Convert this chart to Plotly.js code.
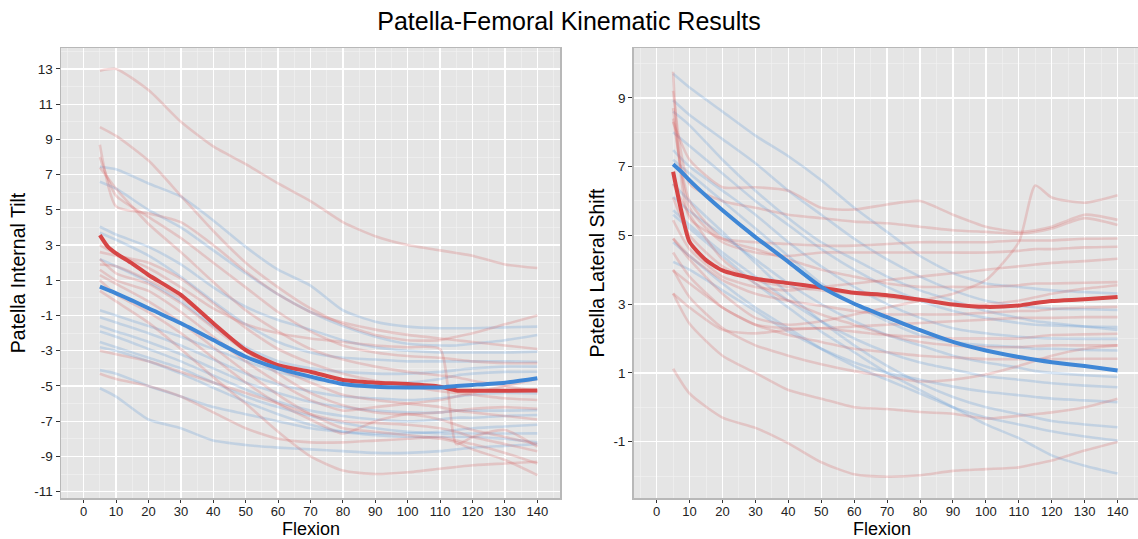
<!DOCTYPE html>
<html>
<head>
<meta charset="utf-8">
<script src="https://cdn.plot.ly/plotly-3.0.1.min.js"></script>
<style>html,body{margin:0;padding:0;background:#fff}#chart{width:1138px;height:539px}</style>
</head>
<body>
<div id="chart"></div>
<script>
// ---------- DATA ----------
const chartTitle = "Patella-Femoral Kinematic Results";
const xTitle = "Flexion";
const leftYTitle = "Patella Internal Tilt";
const rightYTitle = "Patella Lateral Shift";

// flexion angles for individual specimens
const flexion = [5,10,20,30,40,50,60,70,80,90,100,110,115,120,130,140];
// flexion angles for group mean curves
const flexionMean = [5,7.5,10,15,20,30,40,50,60,70,80,90,100,110,115,120,130,140];

// Internal tilt – red group specimens
const tiltRed = [
  [12.9,13.0,11.8,10.0,8.6,7.6,6.5,5.5,4.3,3.5,3.0,2.7,2.55,2.4,1.9,1.7],
  [9.7,9.2,7.8,5.8,3.8,2.0,0.6,-0.6,-1.5,-2.1,-2.4,-2.4,-2.2,-2.0,-1.5,-1.0],
  [8.7,5.2,4.8,4.3,3.0,1.5,0.2,-0.8,-1.4,-1.8,-2.1,-2.3,-2.4,-2.5,-2.7,-2.9],
  [8.0,5.8,4.6,3.4,2.0,0.6,-0.8,-1.9,-2.7,-3.1,-3.3,-3.4,-3.5,-3.6,-3.7,-3.7],
  [7.4,6.2,4.2,2.6,0.9,-0.7,-1.9,-2.9,-3.5,-3.9,-4.2,-4.4,-4.5,-4.7,-5.0,-5.3],
  [2.6,2.4,2.0,1.1,-0.3,-1.7,-2.9,-3.7,-4.3,-4.7,-5.0,-5.3,-5.4,-5.5,-5.7,-5.8],
  [2.2,1.4,0.8,-0.3,-1.7,-3.0,-4.0,-4.8,-5.5,-5.8,-6.0,-6.2,-6.4,-6.5,-6.7,-6.9],
  [1.9,1.8,1.0,0.0,-1.4,-3.0,-4.3,-5.4,-6.1,-6.5,-6.6,-6.5,-6.4,-6.3,-6.2,-6.3],
  [1.6,1.0,0.4,-0.8,-2.2,-3.6,-4.8,-5.8,-6.4,-6.2,-6.0,-5.8,-5.6,-5.4,-5.0,-4.6],
  [1.3,0.8,-0.2,-1.4,-2.8,-4.2,-5.5,-6.6,-7.4,-7.6,-7.8,-8.0,-8.2,-8.6,-9.2,-10.06],
  [1.0,0.2,-0.8,-2.0,-3.4,-4.8,-6.0,-6.9,-7.7,-7.0,-6.6,-6.9,-7.2,-7.5,-7.9,-8.3],
  [0.4,-0.2,-1.4,-2.9,-4.5,-6.0,-7.6,-9.0,-9.8,-10.0,-9.9,-9.7,-9.6,-9.5,-9.4,-9.3],
  [3.0,2.5,1.7,0.6,-0.6,-1.5,-2.0,-2.3,-2.5,-2.7,-2.8,-2.9,-8.3,-7.9,-7.5,-8.45],
  [-3.0,-3.2,-3.6,-4.2,-4.8,-5.4,-6.0,-6.6,-7.0,-7.1,-7.2,-7.4,-7.6,-7.9,-8.3,-8.7],
  [-4.3,-4.6,-5.0,-5.6,-6.5,-7.4,-8.0,-8.2,-8.2,-8.1,-8.0,-7.9,-8.1,-8.3,-8.8,-9.4]
];
// Internal tilt – blue group specimens
const tiltBlue = [
  [7.45,7.3,6.5,5.75,4.4,2.9,1.6,0.7,-0.7,-1.35,-1.63,-1.72,-1.72,-1.72,-1.67,-1.63],
  [6.6,6.2,5.0,4.0,2.7,1.4,0.2,-0.8,-1.6,-2.2,-2.6,-2.7,-2.7,-2.6,-2.4,-2.1],
  [4.04,3.6,2.9,1.9,0.6,-0.5,-1.25,-1.8,-2.4,-2.8,-3.0,-3.1,-3.1,-3.1,-3.1,-3.05],
  [3.7,3.3,2.4,1.2,-0.2,-1.5,-2.5,-3.1,-3.4,-3.5,-3.6,-3.6,-3.6,-3.6,-3.6,-3.62],
  [2.2,1.8,0.9,-0.2,-1.6,-2.8,-3.6,-4.0,-4.2,-4.3,-4.3,-4.2,-4.1,-4.0,-3.9,-3.9],
  [-0.7,-1.0,-1.6,-2.2,-2.9,-3.6,-4.2,-4.6,-4.8,-4.9,-4.8,-4.6,-4.4,-4.3,-4.2,-4.19],
  [-1.1,-1.4,-2.0,-2.7,-3.5,-4.3,-4.9,-5.3,-5.6,-5.7,-5.8,-5.7,-5.6,-5.5,-5.4,-5.42],
  [-1.6,-1.9,-2.5,-3.2,-4.0,-4.8,-5.4,-5.9,-6.2,-6.4,-6.5,-6.5,-6.4,-6.4,-6.4,-6.37],
  [-1.9,-2.2,-2.9,-3.6,-4.4,-5.2,-5.9,-6.4,-6.7,-6.9,-7.0,-6.9,-6.8,-6.8,-6.7,-6.65],
  [-2.5,-2.8,-3.4,-4.0,-4.8,-5.6,-6.2,-6.7,-7.1,-7.4,-7.6,-7.7,-7.7,-7.7,-7.7,-7.69],
  [-2.8,-3.0,-3.6,-4.3,-5.1,-5.9,-6.6,-7.2,-7.6,-7.8,-7.9,-7.9,-7.9,-7.9,-8.0,-8.2],
  [-4.1,-4.3,-5.0,-5.6,-6.2,-6.6,-7.0,-7.4,-7.6,-7.7,-7.7,-7.6,-7.5,-7.4,-7.3,-7.2],
  [-5.13,-5.6,-6.9,-7.4,-8.1,-8.35,-8.5,-8.6,-8.7,-8.8,-8.8,-8.7,-8.6,-8.5,-8.4,-8.3]
];
// Lateral shift – red group specimens
const shiftRed = [
  [8.3,7.2,6.4,6.4,6.3,5.8,5.75,5.9,6.0,5.6,5.25,5.1,5.15,5.25,5.6,5.45],
  [9.2,6.5,6.0,5.8,5.6,5.5,5.4,5.35,5.25,5.15,5.1,5.05,5.1,5.2,5.5,5.3],
  [4.9,4.3,3.3,2.6,2.4,2.5,2.7,2.9,3.1,3.3,3.7,4.8,6.45,6.1,5.95,6.17],
  [9.76,5.5,4.9,4.8,4.75,4.7,4.7,4.75,4.8,4.8,4.8,4.85,4.85,4.85,4.9,4.91],
  [8.7,5.8,4.8,4.5,4.4,4.5,4.5,4.5,4.5,4.5,4.5,4.55,4.6,4.6,4.65,4.67],
  [5.44,4.6,3.8,3.5,3.4,3.5,3.6,3.7,3.8,3.9,4.0,4.1,4.15,4.2,4.25,4.32],
  [8.4,6.0,4.9,4.6,4.3,4.0,3.8,3.6,3.5,3.5,3.5,3.55,3.6,3.6,3.62,3.64],
  [6.1,5.0,4.1,3.7,3.5,3.4,3.3,3.2,3.1,3.0,3.0,3.1,3.2,3.3,3.45,3.55],
  [4.91,4.4,3.7,3.3,3.1,2.95,2.8,2.7,2.7,2.7,2.75,2.8,2.8,2.85,2.9,2.92],
  [3.98,3.6,2.9,2.4,2.3,2.3,2.35,2.4,2.45,2.5,2.55,2.6,2.6,2.6,2.62,2.62],
  [3.31,2.9,2.25,2.15,2.25,2.3,2.2,2.1,2.05,2.0,2.0,2.0,2.05,2.1,2.12,2.14],
  [6.5,5.6,4.3,3.6,3.1,2.7,2.4,2.1,1.9,1.8,1.75,1.75,1.78,1.8,1.8,1.8],
  [4.5,3.8,2.9,2.4,2.1,1.9,1.7,1.6,1.5,1.45,1.4,1.4,1.4,1.4,1.41,1.41],
  [4.0,3.2,2.3,1.8,1.5,1.25,1.05,0.9,0.75,0.8,0.95,1.2,1.35,1.5,1.7,1.8],
  [3.31,2.43,1.5,1.0,0.5,0.25,0.0,-0.05,-0.14,-0.19,-0.33,-0.25,-0.2,-0.15,0.0,0.25],
  [1.12,0.4,-0.3,-0.6,-1.05,-1.6,-1.95,-2.02,-1.98,-1.85,-1.8,-1.75,-1.65,-1.55,-1.26,-1.01]
];
// Lateral shift – blue group specimens
const shiftBlue = [
  [9.7,9.3,8.6,7.9,7.3,6.6,5.8,5.1,4.4,3.9,3.6,3.5,3.45,3.4,3.35,3.31],
  [8.93,8.5,7.8,7.1,6.3,5.6,4.9,4.3,3.8,3.4,3.1,2.95,2.9,2.87,2.85,2.83],
  [8.0,7.6,6.8,6.0,5.3,4.6,4.0,3.5,3.1,2.8,2.6,2.45,2.4,2.38,2.35,2.33],
  [7.48,7.0,6.3,5.6,4.8,4.1,3.5,3.0,2.6,2.3,2.15,2.05,2.02,2.0,1.99,1.99],
  [7.2,6.8,6.0,5.2,4.4,3.6,3.0,2.5,2.1,1.9,1.8,1.75,1.7,1.7,1.67,1.65],
  [6.12,5.7,5.0,4.3,3.6,3.0,2.5,2.1,1.8,1.5,1.3,1.15,1.05,1.0,0.93,0.88],
  [5.73,5.3,4.5,3.8,3.1,2.5,2.0,1.6,1.3,1.1,0.9,0.8,0.75,0.7,0.63,0.58],
  [4.23,4.0,3.4,2.8,2.2,1.7,1.3,1.0,0.8,0.6,0.45,0.35,0.3,0.25,0.2,0.15],
  [6.5,6.0,5.1,4.2,3.3,2.5,1.8,1.2,0.7,0.3,0.0,-0.2,-0.3,-0.4,-0.5,-0.58],
  [4.8,4.4,3.6,2.9,2.3,1.7,1.2,0.8,0.4,0.0,-0.3,-0.5,-0.6,-0.7,-0.85,-0.97],
  [5.6,5.2,4.4,3.6,2.9,2.2,1.6,1.0,0.5,0.0,-0.5,-0.9,-1.15,-1.4,-1.7,-1.93],
  [8.6,8.2,7.2,6.3,5.5,4.8,4.3,3.8,3.4,3.1,2.8,2.6,2.5,2.45,2.35,2.25]
];

// group mean curves
const tiltRedMean  = [3.57,2.9,2.53,1.95,1.3,0.17,-1.44,-2.96,-3.81,-4.19,-4.66,-4.81,-4.89,-5.04,-5.25,-5.27,-5.27,-5.25];
const tiltBlueMean = [0.64,0.45,0.26,-0.15,-0.59,-1.44,-2.39,-3.34,-4.0,-4.47,-4.89,-5.04,-5.08,-5.08,-5.0,-4.94,-4.81,-4.56];
const shiftRedMean  = [6.85,5.7,4.81,4.28,3.98,3.74,3.61,3.48,3.33,3.26,3.13,2.99,2.92,2.96,3.03,3.09,3.14,3.21];
const shiftBlueMean = [7.07,6.85,6.60,6.15,5.73,4.95,4.23,3.50,3.01,2.62,2.24,1.90,1.65,1.46,1.38,1.31,1.20,1.07];

// axis ticks
const xTicks = [0,10,20,30,40,50,60,70,80,90,100,110,120,130,140];
const tiltTicks = [-11,-9,-7,-5,-3,-1,1,3,5,7,9,11,13];
const shiftTicks = [-1,1,3,5,7,9];

// ---------- STYLE ----------
const faintRed = 'rgba(214,84,84,0.22)';
const faintBlue = 'rgba(74,140,212,0.22)';
const boldRed = '#d64545';
const boldBlue = '#3f87d6';
const FONT = '"Liberation Sans", Arial, Helvetica, sans-serif';

const traces = [];
function faint(ys, color, xa, ya) {
  traces.push({x: flexion, y: ys, type: 'scatter', mode: 'lines', xaxis: xa, yaxis: ya,
    line: {color: color, width: 2.6, shape: 'spline', smoothing: 0.6}, hoverinfo: 'skip', showlegend: false});
}
function bold(ys, color, xa, ya) {
  traces.push({x: flexionMean, y: ys, type: 'scatter', mode: 'lines', xaxis: xa, yaxis: ya,
    line: {color: color, width: 4, shape: 'spline', smoothing: 0.6}, hoverinfo: 'skip', showlegend: false});
}
tiltBlue.forEach(ys => faint(ys, faintBlue, 'x', 'y'));
tiltRed.forEach(ys => faint(ys, faintRed, 'x', 'y'));
shiftBlue.forEach(ys => faint(ys, faintBlue, 'x2', 'y2'));
shiftRed.forEach(ys => faint(ys, faintRed, 'x2', 'y2'));
bold(tiltRedMean, boldRed, 'x', 'y');
bold(tiltBlueMean, boldBlue, 'x', 'y');
bold(shiftRedMean, boldRed, 'x2', 'y2');
bold(shiftBlueMean, boldBlue, 'x2', 'y2');

const W = 1138, H = 539;
const panelTop = 48, panelBottom = 498;
const yDom = [(H - panelBottom) / H, (H - panelTop) / H];
const xDom1 = [61 / W, 560 / W];
const xDom2 = [633.6 / W, 1];

function xAxis(dom, range, anchor) {
  return {domain: dom, range: range, anchor: anchor, tickmode: 'array', tickvals: xTicks,
    ticktext: xTicks.map(String),
    showgrid: true, gridcolor: '#ffffff', gridwidth: 1.3, zeroline: false,
    minor: {dtick: 5, tick0: 0, showgrid: true, gridcolor: '#f2f2f2', gridwidth: 0.6, ticks: ''},
    ticks: 'outside', ticklen: 3, tickcolor: '#333', tickwidth: 1, ticklabelstandoff: -2,
    showline: true, linecolor: '#b8b8b8', linewidth: 1.5, mirror: true,
    tickfont: {family: FONT, size: 13, color: '#222'}};
}
function yAxis(dom, range, anchor, ticks, titleText) {
  return {domain: dom, range: range, anchor: anchor, tickmode: 'array', tickvals: ticks,
    ticktext: ticks.map(String),
    showgrid: true, gridcolor: '#ffffff', gridwidth: 1.3, zeroline: false,
    minor: {dtick: 1, tick0: 0, showgrid: true, gridcolor: '#f2f2f2', gridwidth: 0.6, ticks: ''},
    ticks: 'outside', ticklen: 4, tickcolor: '#333', tickwidth: 1,
    showline: true, linecolor: '#b8b8b8', linewidth: 1.5, mirror: true,
    tickfont: {family: FONT, size: 13.5, color: '#222'},
    title: {text: titleText, font: {family: FONT, size: 19.5, color: '#000'}, standoff: 3}};
}
function xTitleAnn(dom, nudge) {
  return {text: xTitle, xref: 'paper', yref: 'paper', x: (dom[0] + dom[1]) / 2 + nudge,
    y: 0, xanchor: 'center', yanchor: 'bottom', yshift: -1, showarrow: false, borderpad: 0,
    font: {family: FONT, size: 18, color: '#000'}};
}

const layout = {
  width: W, height: H,
  margin: {l: 0, r: 0, t: 0, b: 0, autoexpand: false},
  paper_bgcolor: '#ffffff', plot_bgcolor: '#e5e5e5',
  font: {family: FONT},
  title: {text: chartTitle, x: 0.5, xanchor: 'center', y: 1 - 21 / H, yanchor: 'middle',
    font: {family: FONT, size: 25, color: '#000'}},
  xaxis: xAxis(xDom1, [-7, 147], 'y'),
  yaxis: yAxis(yDom, [-11.36, 14.19], 'x', tiltTicks, leftYTitle),
  xaxis2: xAxis(xDom2, [-7, 146.2], 'y2'),
  yaxis2: yAxis(yDom, [-2.64, 10.45], 'x2', shiftTicks, rightYTitle),
  annotations: [xTitleAnn(xDom1, 0), xTitleAnn(xDom2, -0.003)],
  showlegend: false
};

Plotly.newPlot('chart', traces, layout, {staticPlot: true, displayModeBar: false});
</script>
</body>
</html>
